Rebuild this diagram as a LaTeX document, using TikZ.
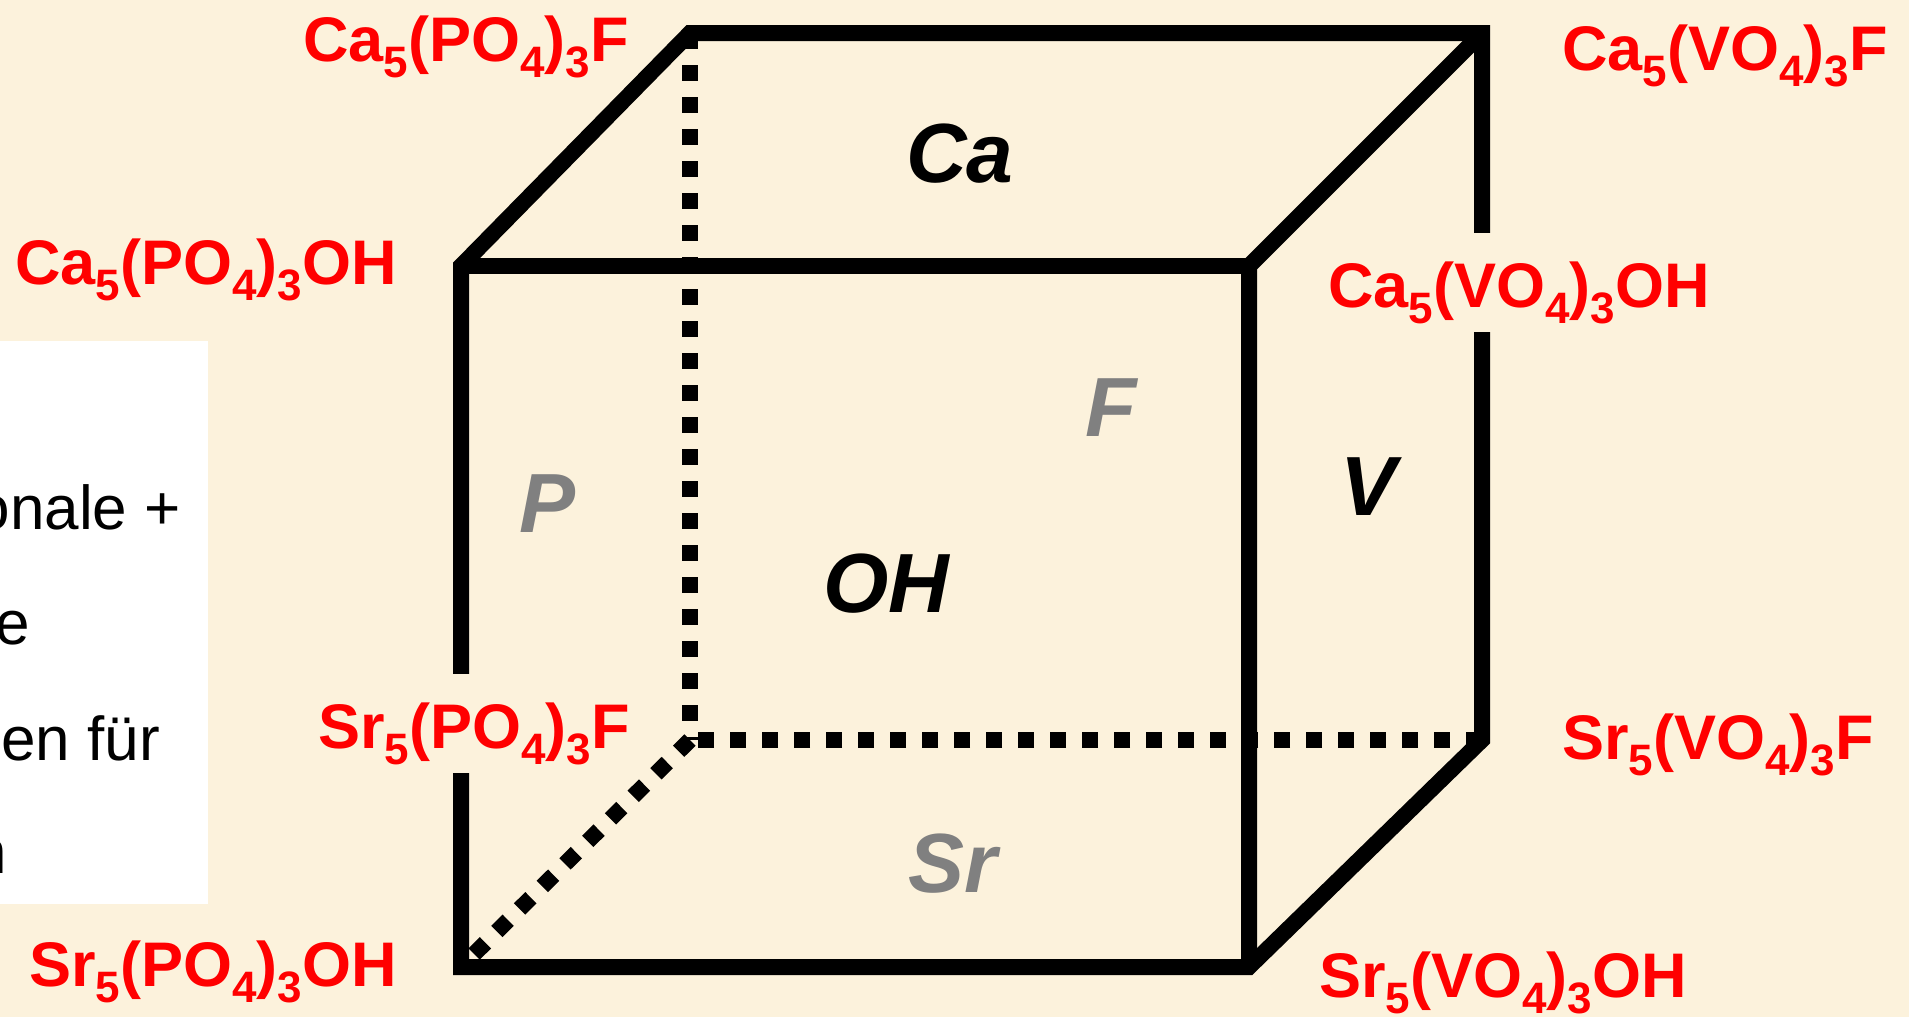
\documentclass[tikz,border=0pt]{standalone}
\usepackage{fontspec}
\setmainfont{Liberation Sans}
\usetikzlibrary{positioning}
\definecolor{cpaper}{RGB}{252,242,220}
\definecolor{cgray}{RGB}{128,128,128}
\newcommand{\lowidx}[1]{\raisebox{-0.26em}{\fontsize{44}{44}\selectfont #1}}
\begin{document}
\begin{tikzpicture}[
    x=1pt, y=-1pt,
    edge/.style={line width=16pt, line join=miter, line cap=butt},
    hidden/.style={line width=16pt, dash pattern=on 16pt off 16pt},
    formula/.style={text=red, font=\fontsize{63}{63}\selectfont\bfseries, inner sep=0pt, anchor=base west},
    gaplabel/.style={formula, fill=cpaper, text height=74pt, text depth=25pt},
    facedark/.style={font=\fontsize{84}{84}\selectfont\bfseries\itshape, text=black, inner sep=0pt, anchor=base},
    facegray/.style={facedark, text=cgray},
    notetext/.style={font=\fontsize{62}{62}\selectfont, text=black, inner sep=0pt, anchor=base east}
]
\useasboundingbox (0,0) rectangle (1909,1017);
\fill[cpaper] (0,0) rectangle (1909,1017);
\fill[white] (0,341) rectangle (208,904);

\node[notetext] (n1) at (181,529) {onale +};
\node[notetext] (n2) at (30,644) {e};
\node[notetext] (n3) at (160,760) {en für};
\node[notetext] (n4) at (7,873) {n};

% corners of the cube
\coordinate (ftl) at (461,266);
\coordinate (ftr) at (1249,266);
\coordinate (fbl) at (461,967);
\coordinate (fbr) at (1249,967);
\coordinate (btl) at (690,33);
\coordinate (btr) at (1482,33);
\coordinate (bbl) at (690,740);
\coordinate (bbr) at (1482,740);

\draw[hidden] (btl) -- (bbl);
\draw[hidden] (bbr) -- (bbl);
\draw[hidden] (bbl) -- (fbl);
\draw[edge] (fbl) -- (ftl) -- (btl) -- (btr) -- (bbr) -- (fbr) -- cycle;
\draw[edge] (btr) -- (ftr) -- (fbr);
\draw[edge] (ftl) -- (ftr);

\node[formula] (capf) at (303,61) {Ca\lowidx{5}(PO\lowidx{4})\lowidx{3}F};
\node[formula] (caoh) at (15,284) {Ca\lowidx{5}(PO\lowidx{4})\lowidx{3}OH};
\node[gaplabel] (srpf) at (318,748) {Sr\lowidx{5}(PO\lowidx{4})\lowidx{3}F};
\node[formula] (sroh) at (29,986) {Sr\lowidx{5}(PO\lowidx{4})\lowidx{3}OH};
\node[formula] (cavf) at (1562,70) {Ca\lowidx{5}(VO\lowidx{4})\lowidx{3}F};
\node[gaplabel] (cavh) at (1328,307) {Ca\lowidx{5}(VO\lowidx{4})\lowidx{3}OH};
\node[formula] (srvf) at (1562,759) {Sr\lowidx{5}(VO\lowidx{4})\lowidx{3}F};
\node[formula] (srvh) at (1319,997) {Sr\lowidx{5}(VO\lowidx{4})\lowidx{3}OH};

\node[facedark] (ca) at (960,182) {Ca};
\node[facedark] (oh) at (886,612) {OH};
\node[facedark] (va) at (1368,515) {V};
\node[facegray] (pp) at (548,532) {P};
\node[facegray] (ff) at (1111,436) {F};
\node[facegray] (sr) at (953,892) {Sr};
\end{tikzpicture}
\end{document}
